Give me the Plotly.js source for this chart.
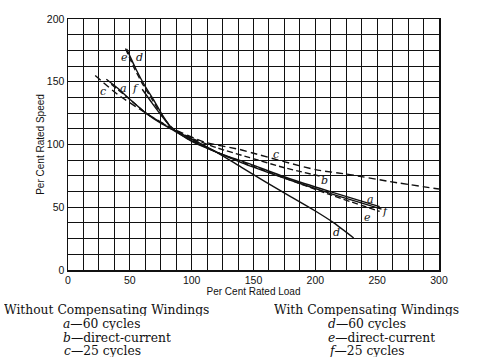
<!DOCTYPE html>
<html>
<head>
<meta charset="utf-8">
<script src="https://cdn.plot.ly/plotly-3.0.1.min.js"></script>
<style>html,body{margin:0;padding:0;background:#fff;}#chart{width:479px;height:364px;}</style>
</head>
<body>
<div id="chart"></div>
<script>
// Per cent rated load (x) and per cent rated speed (y) for each curve
const aLoad  = [31, 40, 50, 63, 75, 84, 100, 120, 147, 180, 212, 252];
const aSpeed = [152, 145, 136, 125, 117, 112, 103, 94, 84.5, 72.5, 62.5, 50.5];
const bLoad  = [35, 50, 63, 84, 100, 120, 147, 175, 205];
const bSpeed = [148, 136, 125, 112.5, 105, 97.5, 89.5, 81.5, 74.5];
const cLoad  = [22, 40, 63, 84, 110, 139, 150, 200, 228, 260, 300];
const cSpeed = [155, 140, 125, 113, 102, 96, 93, 80, 76, 70.5, 64.5];
const dLoad  = [47.5, 55, 62, 69, 76, 84, 100, 120, 140, 160, 180, 200, 215, 231];
const dSpeed = [176, 160, 147, 136, 124, 113, 104.5, 94, 82, 70, 58.5, 47, 37.5, 25.5];
const eLoad  = [46.5, 54, 61, 68, 75, 84, 100, 120, 150, 212, 252];
const eSpeed = [176.5, 160, 147, 136, 124.5, 113.5, 104, 94, 82.5, 60, 46.7];
const fLoad  = [60, 68, 76, 84, 100, 120, 147, 180, 212, 253.5];
const fSpeed = [144, 133, 122.5, 113, 102.5, 94, 83, 71.5, 61, 48.5];

const xTicks = [0, 50, 100, 150, 200, 250, 300];
const yTicks = [0, 50, 100, 150, 200];
const gridStep = 12.5;

// curve letters: [letter, load, speed]
const curveLabels = [
  ['e', 46, 169], ['d', 57.5, 169], ['c', 28.5, 142.5], ['a', 44.5, 145], ['f', 54.5, 144.5],
  ['c', 168.5, 92], ['b', 207.5, 71.5], ['a', 244.5, 56.5], ['f', 256.5, 46.7],
  ['e', 242.5, 42], ['d', 217.5, 30]
];

// key text: [html, pixel x (left), pixel y (centre)]
const keyLines = [
  ['Without Compensating Windings', 3, 310],
  ['<i>a</i>—60 cycles', 62, 324],
  ['<i>b</i>—direct-current', 62, 337.5],
  ['<i>c</i>—25 cycles', 63, 351],
  ['With Compensating Windings', 273, 310],
  ['<i>d</i>—60 cycles', 327, 324],
  ['<i>e</i>—direct-current', 327, 337.5],
  ['<i>f</i>—25 cycles', 328, 351]
];

function tr(x, y, dash) {
  return {x: x, y: y, type: 'scatter', mode: 'lines',
    line: {color: '#111', width: 1.4, dash: dash, shape: 'spline', smoothing: 0.6},
    showlegend: false, hoverinfo: 'skip'};
}
const data = [
  tr(aLoad, aSpeed, 'solid'),
  tr(bLoad, bSpeed, '6px,3px'),
  tr(cLoad, cSpeed, '7px,4px'),
  tr(dLoad, dSpeed, 'solid'),
  tr(eLoad, eSpeed, '6px,3px'),
  tr(fLoad, fSpeed, 'solid')
];

function gridTicks(max, labels) {
  const vals = [], text = [];
  for (let v = 0; v <= max + 1e-9; v += gridStep) {
    vals.push(v);
    text.push(labels.indexOf(v) >= 0 ? String(v) : '');
  }
  return {vals: vals, text: text};
}
const gx = gridTicks(300, xTicks), gy = gridTicks(200, yTicks);

const L = 68, R = 439, T = 19, B = 270;
const annotations = [];
curveLabels.forEach(c => annotations.push({
  x: c[1], y: c[2], xref: 'x', yref: 'y', text: '<i>' + c[0] + '</i>', showarrow: false,
  font: {family: 'DejaVu Serif', size: 11, color: '#111'}
}));
keyLines.forEach(k => annotations.push({
  x: (k[1] - L) / (R - L), y: (B - k[2]) / (B - T), xref: 'paper', yref: 'paper',
  xanchor: 'left', yanchor: 'middle', text: k[0], showarrow: false,
  height: 12, borderpad: 0,
  font: {family: 'DejaVu Serif', size: 12.3, color: '#111'}
}));

const axisFont = 'Liberation Sans, Arial, sans-serif';
const layout = {
  width: 479, height: 364,
  margin: {l: L, r: 479 - R, t: T, b: 364 - B, pad: 0},
  paper_bgcolor: '#fff', plot_bgcolor: '#fff',
  font: {family: axisFont, color: '#111'},
  xaxis: {
    range: [0, 300], tickmode: 'array', tickvals: gx.vals, ticktext: gx.text,
    showgrid: true, gridcolor: '#111', gridwidth: 1,
    ticks: '', zeroline: false, showline: true, linecolor: '#111', linewidth: 1.5, mirror: true,
    tickfont: {size: 10.5, family: axisFont, color: '#111'},
    title: {text: 'Per Cent Rated Load', font: {size: 10, family: axisFont, color: '#111'}, standoff: 0},
    automargin: false, fixedrange: true
  },
  yaxis: {
    range: [0, 200], tickmode: 'array', tickvals: gy.vals, ticktext: gy.text,
    showgrid: true, gridcolor: '#111', gridwidth: 1,
    ticks: '', zeroline: false, showline: true, linecolor: '#111', linewidth: 1.5, mirror: true,
    tickfont: {size: 10.5, family: axisFont, color: '#111'},
    title: {text: 'Per Cent Rated Speed', font: {size: 10, family: axisFont, color: '#111'}, standoff: 0},
    automargin: false, fixedrange: true
  },
  annotations: annotations
};

Plotly.newPlot('chart', data, layout, {displayModeBar: false, staticPlot: true});
</script>
</body>
</html>
